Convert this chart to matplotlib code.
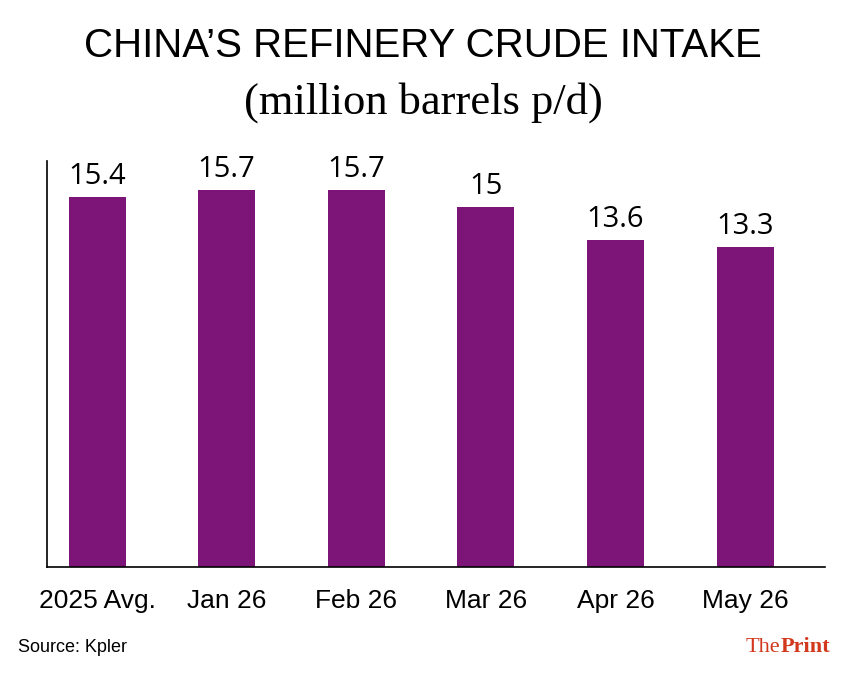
import matplotlib.pyplot as plt

# ---- data ----
categories = ['2025 Avg.', 'Jan 26', 'Feb 26', 'Mar 26', 'Apr 26', 'May 26']
intake = [15.4, 15.7, 15.7, 15.0, 13.6, 13.3]
value_labels = ['15.4', '15.7', '15.7', '15', '13.6', '13.3']

bar_color = '#7d1477'
narrow = ['Liberation Sans Narrow', 'Liberation Sans', 'DejaVu Sans']
serif = ['Liberation Serif', 'DejaVu Serif']

fig = plt.figure(figsize=(8.46, 6.75), dpi=100)
ax = fig.add_axes([47/846, 108/675, 778/846, 406/675])

x = range(len(categories))
bars = ax.bar(x, intake, width=0.44, color=bar_color)

for b, lab in zip(bars, value_labels):
    ax.text(b.get_x() + b.get_width()/2, b.get_height() + 0.25, lab,
            ha='center', va='bottom', fontsize=21, family=['Open Sans', 'DejaVu Sans'])

ax.set_xlim(-0.386, 5.617)
ax.set_ylim(0, 16.9)
ax.set_xticks(list(x))
ax.set_xticklabels(categories, fontsize=19, family=narrow)
ax.tick_params(axis='x', length=0, pad=16)
ax.set_yticks([])
ax.spines['top'].set_visible(False)
ax.spines['right'].set_visible(False)
ax.spines['left'].set_linewidth(1.2)
ax.spines['bottom'].set_linewidth(1.2)

# ---- titles ----
fig.text(0.5, 1 - 46/675, 'CHINA\u2019S REFINERY CRUDE INTAKE', ha='center', va='center',
         fontsize=29, family=narrow)
fig.text(0.5, 1 - 103/675, '(million barrels p/d)', ha='center', va='center',
         fontsize=32, family=serif)

# ---- footer ----
fig.text(18/846, 1 - 648/675, 'Source: Kpler', ha='left', va='center',
         fontsize=13, family=narrow)
t = fig.text(746/846, 1 - 647/675, 'The', ha='left', va='center', color='#d2381c',
             fontsize=16, family=serif)
fig.canvas.draw()
bb = t.get_window_extent()
fig.text(bb.x1/846, 1 - 647/675, 'Print', ha='left', va='center', color='#d2381c',
         fontsize=16, fontweight='bold', family=serif)

fig.savefig('out.png', dpi=100)
